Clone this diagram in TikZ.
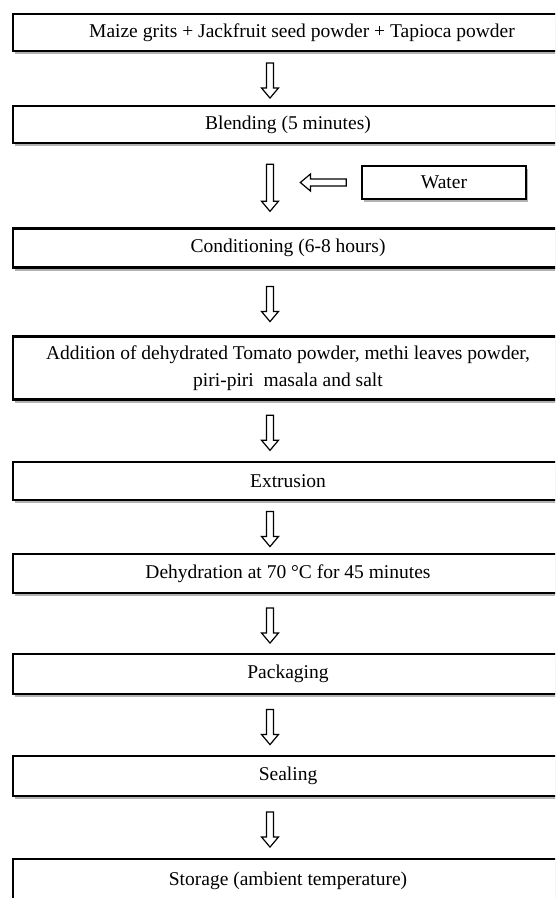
\documentclass[tikz,border=0pt]{standalone}
\usepackage{fontspec}
\setmainfont{Liberation Serif}
\usetikzlibrary{shapes.arrows,shadows}
\begin{document}
\begin{tikzpicture}[
                x=1pt, y=-1pt,
                font=\fontsize{19.5}{27}\selectfont,
                flowStep/.style={draw=black,line width=2.6pt,fill=white,
                                 minimum width=550pt,inner sep=0pt,align=center,
                                 drop shadow={shadow xshift=2pt,shadow yshift=-3pt,
                                              opacity=0.3,fill=black}},
                flowArrow/.style={single arrow,draw=black,fill=white,line width=1.2pt,
                                  minimum width=17pt,minimum height=35pt,
                                  single arrow head extend=5pt,
                                  single arrow head indent=0pt,
                                  single arrow tip angle=80,
                                  inner xsep=0pt,inner ysep=2.9pt},
                flowDown/.style={flowArrow,rotate=-90},
                flowLeft/.style={flowArrow,rotate=180}]
                \useasboundingbox (0,0) rectangle (555,898);
                \clip (0,0) rectangle (555,898);
                \coordinate (ax) at (270,0);
                \node[flowStep,minimum height=37pt] (s1) at (288,32.5)
                    {\hspace*{28pt}Maize grits + Jackfruit seed powder + Tapioca powder};
                \node[flowStep,minimum height=37pt] (s2) at (288,124.5) {Blending (5 minutes)};
                \node[flowStep,minimum height=39pt] (s3) at (288,248) {Conditioning (6-8 hours)};
                \node[flowStep,minimum height=63pt] (s4) at (288,368)
                    {Addition of dehydrated Tomato powder, methi leaves powder,\\
                     piri-piri\ \ masala and salt};
                \node[flowStep,minimum height=38pt] (s5) at (288,481) {Extrusion};
                \node[flowStep,minimum height=39pt] (s6) at (288,573.5) {Dehydration at 70 °C for 45 minutes};
                \node[flowStep,minimum height=40pt] (s7) at (288,674) {Packaging};
                \node[flowStep,minimum height=40pt] (s8) at (288,776) {Sealing};
                \node[flowStep,minimum height=44pt] (s9) at (288,881) {Storage (ambient temperature)};
                \node[flowStep,minimum width=164pt,minimum height=33pt,line width=2.3pt]
                    (water) at (444,182.5) {Water};
                \foreach \a/\b in {s1/s2,s3/s4,s4/s5,s5/s6,s6/s7,s7/s8,s8/s9}{
                    \path (\a.south -| ax) -- node[flowDown,midway] {} (\b.north -| ax);
                }
                \path (s2.south -| ax) -- node[flowDown,midway,minimum height=47pt] (a2) {} (s3.north -| ax);
                \path (water.west) -- node[flowLeft,pos=0.39,minimum height=46pt] (aw) {} (water.west -| ax);
            \end{tikzpicture}
\end{document}
